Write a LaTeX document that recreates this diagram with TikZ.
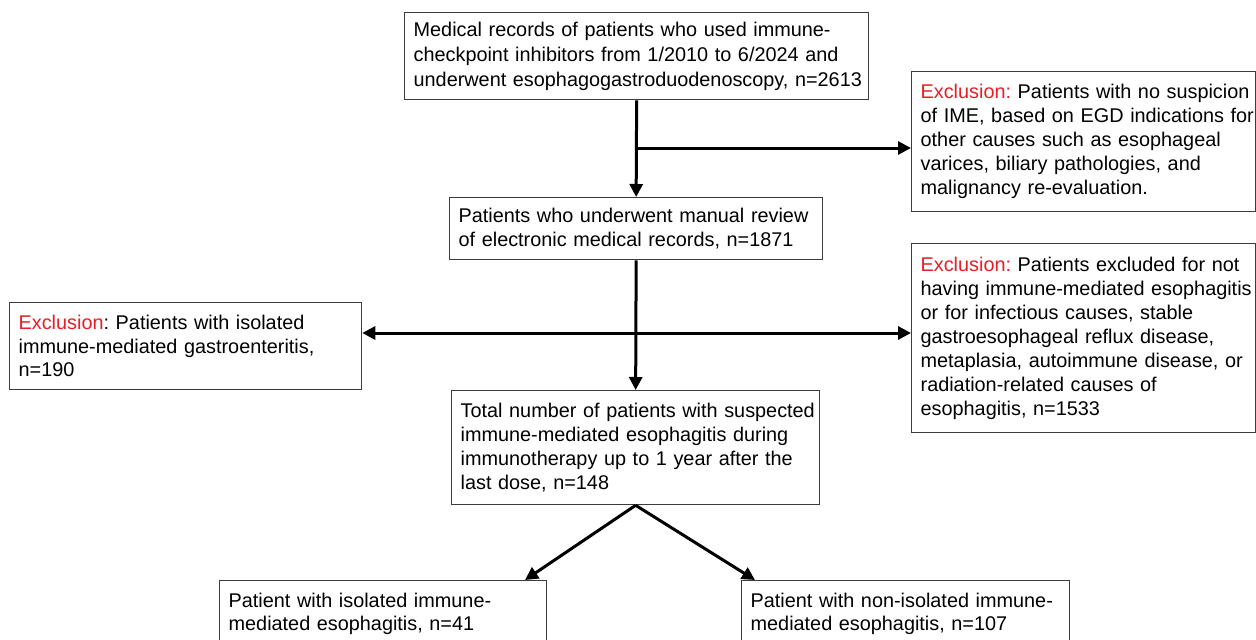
\documentclass[tikz,border=0pt]{standalone}
\usepackage{fontspec}
\setmainfont{Liberation Sans}
\usetikzlibrary{arrows.meta}
\definecolor{exred}{RGB}{232,30,38}
\definecolor{bordergray}{RGB}{60,60,60}
\tikzset{
  bx/.style n args={2}{draw=bordergray, line width=1.3pt, anchor=north west,
    text width=#1, minimum height=#2, inner xsep=9pt, inner ysep=0pt,
    align=left, font=\fontsize{19.85}{24}\selectfont\frenchspacing},
  flow/.style={line width=3pt, -{Triangle[length=13pt,width=13pt]}}
}
\newcommand{\exc}[1]{\textcolor{exred}{#1}}
\newcommand{\tl}[1]{\mbox{#1}}
\begin{document}
\begin{tikzpicture}[x=1pt,y=-1pt]
\useasboundingbox (0,0) rectangle (1256,640);
\clip (0,0) rectangle (1256,640);
\fill[white] (0,0) rectangle (1256,640);

\node[bx={446pt}{87pt}, font=\fontsize{19.85}{25}\selectfont\frenchspacing] (top) at (404,12)
  {\tl{Medical records of patients who used immune-}\\\tl{checkpoint inhibitors from 1/2010 to 6/2024 and}\\\tl{underwent esophagogastroduodenoscopy, n=2613}};

\node[bx={326pt}{140pt}] (ex1) at (911,71)
  {\tl{\exc{Exclusion:} Patients with no suspicion}\\\tl{of IME, based on EGD indications for}\\\tl{other causes such as esophageal}\\\tl{varices, biliary pathologies, and}\\\tl{malignancy re-evaluation.}};

\node[bx={355pt}{62pt}] (rev) at (449,197)
  {\tl{Patients who underwent manual review}\\\tl{of electronic medical records, n=1871}};

\node[bx={334pt}{87pt}, font=\fontsize{19.85}{23.5}\selectfont\frenchspacing] (exL) at (9,302)
  {\tl{\exc{Exclusion}: Patients with isolated}\\\tl{immune-mediated gastroenteritis,}\\\tl{n=190}};

\node[bx={326pt}{189pt}] (ex2) at (911,243)
  {\tl{\exc{Exclusion:} Patients excluded for not}\\\tl{having immune-mediated esophagitis}\\\tl{or for infectious causes, stable}\\\tl{gastroesophageal reflux disease,}\\\tl{metaplasia, autoimmune disease, or}\\\tl{radiation-related causes of}\\\tl{esophagitis, n=1533}};

\node[bx={350pt}{114pt}] (tot) at (451,390)
  {\tl{Total number of patients with suspected}\\\tl{immune-mediated esophagitis during}\\\tl{immunotherapy up to 1 year after the}\\\tl{last dose, n=148}};

\node[bx={309pt}{66pt}, font=\fontsize{19.85}{23.5}\selectfont\frenchspacing] (bl) at (219,580)
  {\tl{Patient with isolated immune-}\\\tl{mediated esophagitis, n=41}};

\node[bx={310pt}{66pt}, font=\fontsize{19.85}{23.5}\selectfont\frenchspacing] (br) at (741,580)
  {\tl{Patient with non-isolated immune-}\\\tl{mediated esophagitis, n=107}};

% connectors
\draw[flow] (top.south) -- (rev.north);
\coordinate (b1) at (636,148);
\draw[flow] (b1) -- (b1 -| ex1.west);

\draw[flow] (rev.south) -- (tot.north);
\coordinate (b2) at (635.5,333);
\draw[flow] (b2) -- (b2 -| exL.east);
\draw[flow] (b2) -- (b2 -| ex2.west);

\coordinate (d1) at (525,580);
\coordinate (d2) at (755,580);
\draw[flow] (tot.south) -- (d1);
\draw[flow] (tot.south) -- (d2);
\end{tikzpicture}
\end{document}
